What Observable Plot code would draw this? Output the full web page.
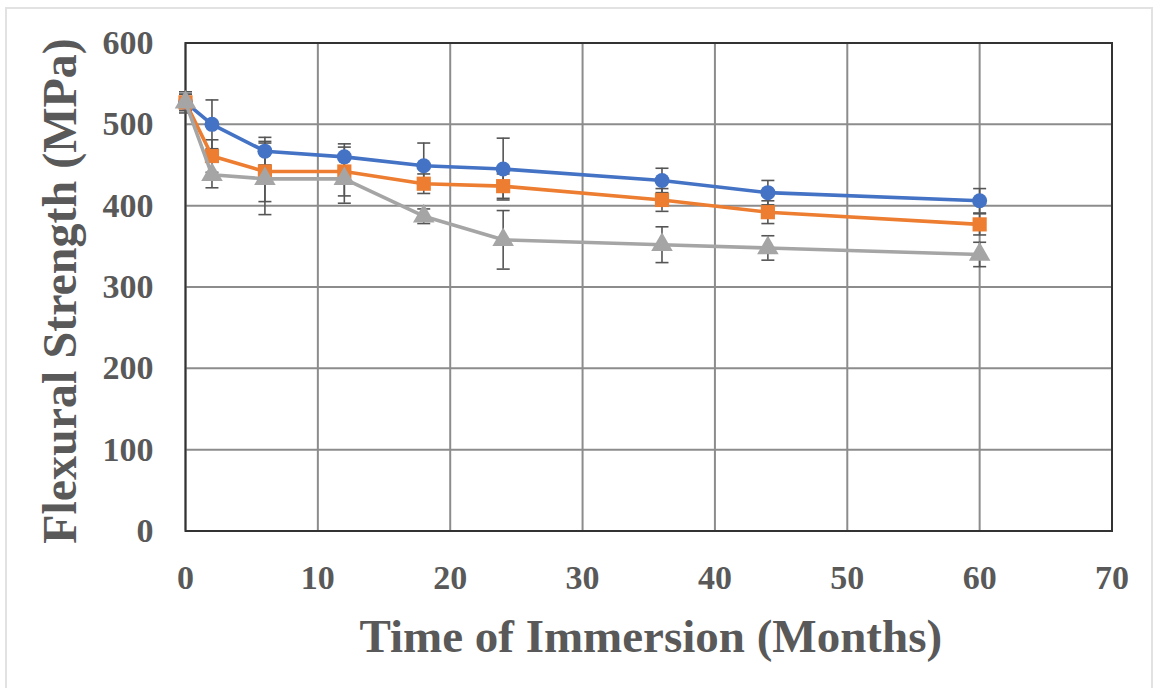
<!DOCTYPE html>
<html>
<head>
<meta charset="utf-8">
<script src="https://cdn.jsdelivr.net/npm/d3@7"></script>
<script src="https://cdn.jsdelivr.net/npm/@observablehq/plot@0.6"></script>
<style>
  html, body { margin: 0; padding: 0; background: #fff; }
  #wrap { position: relative; width: 1157px; height: 688px; overflow: hidden; }
  #edge { position: absolute; left: 5px; top: 7px; width: 1148px; height: 700px;
          border: 2px solid #e2e2e2; border-bottom: none; box-sizing: border-box; }
  #chart { position: absolute; left: 0; top: 0; }
</style>
</head>
<body>
<div id="wrap"><div id="edge"></div><div id="chart"></div></div>
<script>
// Immersion time (months) at which specimens were tested
const months = [0, 2, 6, 12, 18, 24, 36, 44, 60];

// Mean flexural strength (MPa) and standard deviation for each series
const seriesA = [527, 500, 467, 460, 449, 445, 431, 416, 406];
const seriesAErr = [13, 30, 17, 16, 28, 38, 15, 15, 15];
const seriesB = [527, 461, 442, 442, 427, 424, 407, 392, 377];
const seriesBErr = [10, 20, 37, 30, 12, 15, 14, 14, 13];
const seriesC = [527, 438, 433, 433, 387, 358, 352, 348, 340];
const seriesCErr = [10, 16, 44, 30, 9, 36, 22, 15, 15];

const xTicks = [0, 10, 20, 30, 40, 50, 60, 70];
const yTicks = [0, 100, 200, 300, 400, 500, 600];

const series = [
  {name: "A", values: seriesA, err: seriesAErr, color: "#4472C4", symbol: "circle", r: 7.5},
  {name: "B", values: seriesB, err: seriesBErr, color: "#ED7D31", symbol: "square", r: 8},
  {name: "C", values: seriesC, err: seriesCErr, color: "#A5A5A5", symbol: "triangle", r: 8}
];

const rows = series.flatMap(s => months.map((m, i) => ({
  series: s.name, month: m, value: s.values[i],
  lo: s.values[i] - s.err[i], hi: s.values[i] + s.err[i]
})));

// Short horizontal caps on the error bars, sized in pixels
const cap = {draw(ctx, size) { const w = 6.5; ctx.moveTo(-w, 0); ctx.lineTo(w, 0); }};

const font = "'Liberation Serif', 'Times New Roman', serif";
const ink = "#595959";

const marks = [
  Plot.gridX(xTicks, {stroke: "#8c8c8c", strokeOpacity: 1, strokeWidth: 2}),
  Plot.gridY(yTicks, {stroke: "#8c8c8c", strokeOpacity: 1, strokeWidth: 2}),
  Plot.frame({stroke: "#333", strokeWidth: 2}),
  Plot.axisX(xTicks, {tickSize: 0, tickPadding: 34, fontSize: 34, fontWeight: "bold", fill: ink, label: null}),
  Plot.axisY(yTicks, {tickSize: 0, tickPadding: 32, fontSize: 34, fontWeight: "bold", fill: ink, label: null}),
  Plot.text(["Time of Immersion (Months)"], {frameAnchor: "bottom", dx: 2, dy: 106, fontSize: 47,
    fontWeight: "bold", fill: ink, lineAnchor: "middle", textAnchor: "middle"}),
  Plot.text(["Flexural Strength (MPa)"], {frameAnchor: "left", dx: -125, dy: 4, rotate: -90,
    fontSize: 48, fontWeight: "bold", fill: ink, lineAnchor: "middle", textAnchor: "middle"})
];

for (const s of series) {
  const d = rows.filter(r => r.series === s.name);
  marks.push(
    Plot.ruleX(d, {x: "month", y1: "lo", y2: "hi", stroke: "#555", strokeWidth: 1.6}),
    Plot.dot(d, {x: "month", y: "lo", symbol: cap, r: 5, stroke: "#555", strokeWidth: 1.6, fill: "none"}),
    Plot.dot(d, {x: "month", y: "hi", symbol: cap, r: 5, stroke: "#555", strokeWidth: 1.6, fill: "none"})
  );
}
for (const s of series) {
  const d = rows.filter(r => r.series === s.name);
  marks.push(
    Plot.line(d, {x: "month", y: "value", stroke: s.color, strokeWidth: 3.6}),
    Plot.dot(d, {x: "month", y: "value", symbol: s.symbol, r: s.r, fill: s.color, stroke: "none"})
  );
}

const chart = Plot.plot({
  width: 1157,
  height: 688,
  marginLeft: 185,
  marginRight: 45.5,
  marginTop: 42.5,
  marginBottom: 157.5,
  style: {fontFamily: font, background: "transparent", overflow: "visible"},
  x: {domain: [0, 70]},
  y: {domain: [0, 600]},
  marks
});
document.getElementById("chart").appendChild(chart);
</script>
</body>
</html>
